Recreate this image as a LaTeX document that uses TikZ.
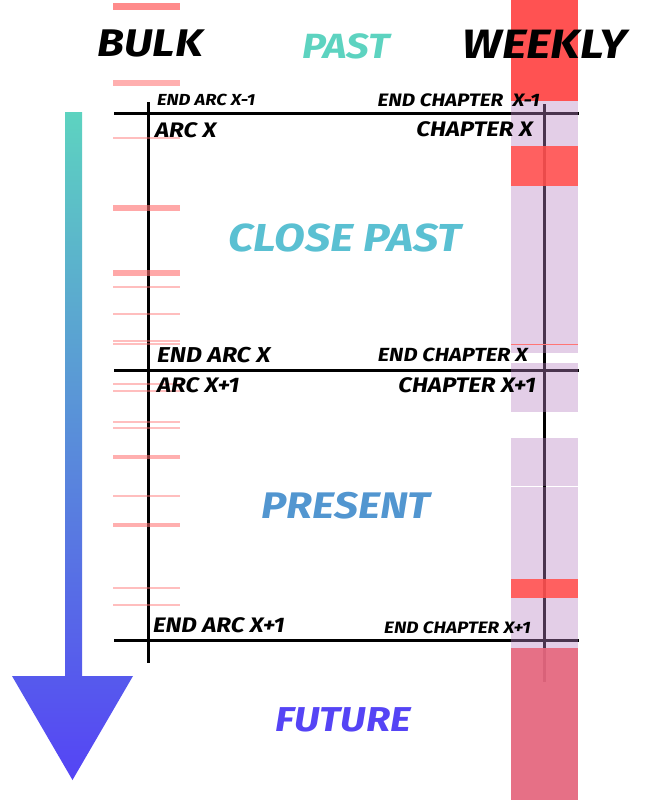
\documentclass[tikz,border=0pt]{standalone}
\usepackage{fontspec}
\usepackage{xcolor}
\usepackage{tikz}
\usetikzlibrary{positioning}
\newfontfamily\comicfont{Fira Sans}[FakeStretch=1.15]
\definecolor{weekred}{RGB}{255,82,82}
\definecolor{weekpurple}{RGB}{185,132,195}
\definecolor{weekrose}{RGB}{229,104,128}
\definecolor{bulkpink}{RGB}{255,110,110}
\definecolor{pastteal}{RGB}{93,211,192}
\definecolor{closeteal}{RGB}{90,192,210}
\definecolor{presentblue}{RGB}{82,150,208}
\definecolor{futureblue}{RGB}{85,68,245}

\begin{document}
\begin{tikzpicture}[
  x=1pt, y=-1pt,
  title/.style={font=\comicfont\bfseries\itshape\fontsize{#1}{#1}\selectfont, inner sep=0pt},
  period/.style={font=\comicfont\bfseries\itshape\fontsize{#1}{#1}\selectfont, inner sep=0pt},
  arclabel/.style={anchor=west, inner sep=0pt, font=\comicfont\bfseries\itshape\fontsize{#1}{#1}\selectfont},
  chaplabel/.style={anchor=east, inner sep=0pt, font=\comicfont\bfseries\itshape\fontsize{#1}{#1}\selectfont},
  rule/.style={line width=3pt, black},
  thickmark/.style={line width=6pt, bulkpink, opacity=0.6},
  midmark/.style={line width=4pt, bulkpink, opacity=0.55},
  thinmark/.style={line width=1.2pt, bulkpink, opacity=0.45},
  block/.style={fill=#1, draw=none},
]
\useasboundingbox (0,0) rectangle (659,800);

% Time arrow
\shade[top color=pastteal, middle color=presentblue!85!pastteal, bottom color=futureblue]
  (65,112) -- (82,112) -- (82,676) -- (133,676) -- (72.5,780) -- (12,676) -- (65,676) -- cycle;

% Grid
\draw[rule] (148,102) -- (148,663);
\draw[rule] (544,104) -- (544,682);
\foreach \y in {113, 370, 640} {
  \draw[rule] (114,\y) -- (579,\y);
}

% Bulk release marks
\draw[line width=7pt, bulkpink, opacity=0.8] (113,6.5) -- (180,6.5);
\draw[line width=6pt, bulkpink, opacity=0.55] (113,83) -- (180,83);
\foreach \y in {208, 273} {
  \draw[thickmark] (113,\y) -- (180,\y);
}
\foreach \y in {457, 525} {
  \draw[midmark] (113,\y) -- (180,\y);
}
\foreach \y in {138, 287, 314, 341, 344, 384, 391, 422, 428, 496, 588, 605} {
  \draw[thinmark] (113,\y) -- (180,\y);
}

% Weekly release column
\fill[block=weekred] (511,0) rectangle (578,101);
\fill[block=weekpurple, opacity=0.4] (511,101) rectangle (578,146);
\fill[block=weekred, opacity=0.92] (511,146) rectangle (578,186);
\fill[block=weekpurple, opacity=0.4] (511,186) rectangle (578,353);
\fill[block=weekpurple, opacity=0.4] (511,363) rectangle (578,412);
\fill[block=weekpurple, opacity=0.4] (511,438) rectangle (578,485.5);
\fill[block=weekpurple, opacity=0.4] (511,486.5) rectangle (578,579);
\fill[block=weekred, opacity=0.92] (511,579) rectangle (578,598);
\fill[block=weekpurple, opacity=0.4] (511,598) rectangle (578,648);
\fill[block=weekrose, opacity=0.95] (511,648) rectangle (578,800);
\draw[line width=1pt, weekred!80] (511,344) -- (578,344);

% Titles
\node[title=38.5] (bulk) at (150,43) {BULK};
\node[title=41] (weekly) at (545,44) {WEEKLY};
\node[period=35, text=pastteal] (past) at (346,46) {PAST};
\node[period=39, text=closeteal] (closepast) at (345,238) {CLOSE PAST};
\node[period=37, text=presentblue] (present) at (346,506) {PRESENT};
\node[period=34.5, text=futureblue] (future) at (343,720) {FUTURE};

% Arc labels
\node[arclabel=16] (endarcA) at (157,100) {END ARC X-1};
\node[arclabel=21] (arcA) at (155,130) {ARC X};
\node[arclabel=21.5] (endarcB) at (157,355) {END ARC X};
\node[arclabel=21] (arcB) at (157,385) {ARC X+1};
\node[arclabel=21] (endarcC) at (153,625) {END ARC X+1};

% Chapter labels
\node[chaplabel=18] (endchapA) at (540,100) {END CHAPTER\ \ X-1};
\node[chaplabel=21] (chapA) at (533,129) {CHAPTER X};
\node[chaplabel=19] (endchapB) at (528,355) {END CHAPTER X};
\node[chaplabel=21] (chapB) at (536,385) {CHAPTER X+1};
\node[chaplabel=16.5] (endchapC) at (531,628) {END CHAPTER X+1};

\end{tikzpicture}
\end{document}
